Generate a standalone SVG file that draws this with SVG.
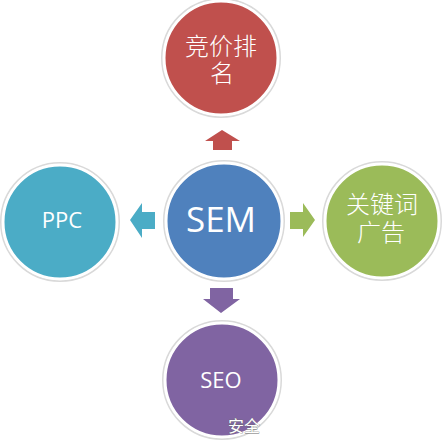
<svg xmlns="http://www.w3.org/2000/svg" width="444" height="445" viewBox="0 0 444 445">
<style>
.ring{stroke:#ffffff;stroke-width:3}
.halo{fill:none;stroke:#d9d9d9;stroke-width:2}
.lat{font-family:"Open Sans","Liberation Sans",sans-serif;fill:#ffffff;text-anchor:middle}
.cjk{font-family:"Noto Sans CJK SC",sans-serif;font-weight:300;fill:#ffffff;text-anchor:middle}
</style>
<rect width="444" height="445" fill="#ffffff"/>
<g id="connectors">
<path d="M213,150 L213,141 L205,141 L222,130 L240,141 L232,141 L232,150 Z" fill="#c0504d"/>
<path d="M155,212 L142,212 L142,203 L130,220 L142,238 L142,229 L155,229 Z" fill="#4bacc6"/>
<path d="M290,212 L303,212 L303,203 L315,220 L303,237 L303,229 L290,229 Z" fill="#9bbb59"/>
<path d="M210,288 L210,299 L203,299 L221,313 L240,299 L233,299 L233,288 Z" fill="#8064a2"/>
</g>
<g id="n-top">
<circle cx="221" cy="58" r="59" class="halo"/>
<circle cx="221" cy="58" r="57" fill="#c0504d" class="ring"/>
<text class="cjk" font-size="24"><tspan x="221" y="55">竞价排</tspan><tspan x="222" y="82">名</tspan></text>
</g>
<g id="n-sem">
<circle cx="224" cy="221" r="60" class="halo"/>
<circle cx="224" cy="221" r="58" fill="#4f81bd" class="ring"/>
<text x="221" y="232" class="lat" font-size="35">SEM</text>
</g>
<g id="n-ppc">
<circle cx="60" cy="222" r="59" class="halo"/>
<circle cx="60" cy="222" r="57" fill="#4bacc6" class="ring"/>
<text x="62" y="228" class="lat" font-size="22">PPC</text>
</g>
<g id="n-kw">
<circle cx="382" cy="221" r="59" class="halo"/>
<circle cx="382" cy="221" r="57" fill="#9bbb59" class="ring"/>
<text class="cjk" font-size="24"><tspan x="382" y="213">关键词</tspan><tspan x="381" y="241">广告</tspan></text>
</g>
<g id="n-seo">
<circle cx="222" cy="380" r="59" class="halo"/>
<circle cx="222" cy="380" r="57" fill="#8064a2" class="ring"/>
<text x="221" y="388" class="lat" font-size="22">SEO</text>
</g>
<text x="228" y="432" font-family="Noto Sans CJK SC,sans-serif" font-size="16" fill="#ffffff" stroke="#6a6a6a" stroke-width="0.6" paint-order="stroke">安全</text>
</svg>
